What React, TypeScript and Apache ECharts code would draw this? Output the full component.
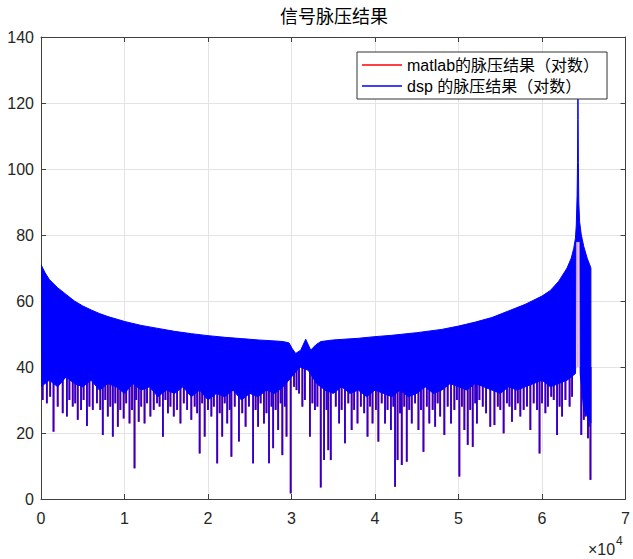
import React, { useEffect, useRef } from 'react';
import * as echarts from 'echarts';

const TITLE = '信号脉压结果';
const NAME_MATLAB = 'matlab的脉压结果（对数）';
const NAME_DSP = 'dsp 的脉压结果（对数）';

const X_MIN = 0;
const X_MAX = 7;
const X_STEP = 1;
const Y_MIN = 0;
const Y_MAX = 140;
const Y_STEP = 20;

// upper envelope of the dense signal (x in units of 10^4)
const upperX = [0, 0.05, 0.1, 0.2, 0.3, 0.4, 0.5, 0.6, 0.7, 0.8, 1.0, 1.2, 1.4, 1.6, 1.8, 2.0, 2.2, 2.4, 2.6, 2.8, 2.9, 2.97, 3.01, 3.05, 3.11, 3.17, 3.23, 3.29, 3.35, 3.5, 3.8, 4.0, 4.2, 4.5, 4.8, 5.0, 5.2, 5.4, 5.6, 5.8, 6.0, 6.1, 6.2, 6.3, 6.35, 6.38, 6.4, 6.41, 6.42, 6.425, 6.428, 6.43, 6.432, 6.435, 6.44, 6.45, 6.47, 6.5, 6.54, 6.585];
const upperY = [71, 68.5, 66.5, 64, 62, 60, 58.5, 57.3, 56.2, 55.3, 53.8, 52.6, 51.7, 50.8, 50.1, 49.5, 49.0, 48.6, 48.2, 47.9, 47.7, 47.3, 45.5, 44.1, 45.1, 48.4, 45.1, 46.7, 47.7, 48.2, 48.7, 49.2, 49.6, 50.4, 51.4, 52.4, 53.6, 55.0, 57.0, 59.0, 61.5, 63.2, 66.0, 70.0, 73.0, 76, 79, 83, 92, 102, 115, 125, 115, 102, 90, 84, 80, 76.5, 73, 70];

// lower edge of the solid band
const lowerX = [0, 0.1, 0.2, 0.3, 0.4, 0.5, 0.6, 0.7, 0.8, 0.9, 1.0, 1.1, 1.2, 1.3, 1.4, 1.5, 1.6, 1.7, 1.8, 1.9, 2.0, 2.1, 2.2, 2.3, 2.4, 2.5, 2.6, 2.7, 2.8, 2.9, 3.0, 3.1, 3.2, 3.3, 3.4, 3.5, 3.6, 3.7, 3.8, 3.9, 4.0, 4.1, 4.2, 4.3, 4.4, 4.5, 4.6, 4.7, 4.8, 4.9, 5.0, 5.1, 5.2, 5.3, 5.4, 5.5, 5.6, 5.7, 5.8, 5.9, 6.0, 6.1, 6.2, 6.3, 6.4, 6.403, 6.406, 6.454, 6.457, 6.5, 6.585];
const lowerY = [34, 36, 34, 37, 35, 34, 36, 33, 35, 34, 32, 35, 33, 34, 31, 33, 32, 34, 31, 33, 30, 32, 31, 33, 30, 32, 31, 33, 32, 34, 37, 40, 39, 35, 33, 32, 34, 32, 33, 31, 33, 32, 31, 33, 31, 32, 34, 32, 33, 35, 34, 33, 35, 34, 33, 32, 34, 33, 34, 35, 36, 34, 35, 36, 38, 40, 78, 78, 38, 27, 23];

// long downward spikes below the band
const spikeX = [0.02, 0.15, 0.26, 0.31, 0.38, 0.44, 0.55, 0.62, 0.74, 0.80, 0.86, 0.92, 0.99, 1.06, 1.12, 1.17, 1.24, 1.31, 1.46, 1.52, 1.59, 1.67, 1.80, 1.90, 1.96, 2.04, 2.11, 2.17, 2.23, 2.28, 2.37, 2.45, 2.54, 2.60, 2.67, 2.73, 2.78, 2.84, 2.89, 2.94, 2.99, 3.03, 3.09, 3.13, 3.22, 3.28, 3.35, 3.39, 3.44, 3.47, 3.57, 3.64, 3.72, 3.79, 3.91, 3.97, 4.04, 4.12, 4.19, 4.24, 4.27, 4.32, 4.38, 4.44, 4.52, 4.58, 4.65, 4.72, 4.78, 4.83, 4.91, 5.01, 5.07, 5.11, 5.17, 5.22, 5.25, 5.38, 5.43, 5.54, 5.64, 5.74, 5.86, 5.97, 6.04, 6.11, 6.18, 6.24, 6.33, 6.47, 6.52, 6.55, 6.58];
const spikeY = [30, 20.4, 26, 25, 28, 24, 22.1, 27, 19.4, 25, 18.9, 21.9, 24.4, 22.9, 9.3, 23.4, 22.9, 25, 18.9, 26, 25, 22.9, 24, 13.8, 18.9, 25, 10.8, 18.9, 22.9, 12.8, 17.4, 21.9, 10.8, 21.9, 22.9, 10.8, 15.4, 20.9, 13.3, 18.9, 1.7, 34, 32, 28, 18.9, 27, 3.5, 11.8, 14.8, 11.8, 22.9, 16.9, 20.9, 22.9, 18.9, 22.9, 17.4, 22.9, 20.9, 3.7, 11.8, 10.3, 11.3, 22.9, 20.9, 14.3, 22.9, 21.9, 25, 19.4, 22.9, 6.8, 20.9, 16.4, 15.8, 22.9, 30, 21.9, 22.4, 19.9, 23.4, 25, 20.9, 13.8, 26, 31, 19.4, 25, 28, 19.4, 25, 18.4, 5.8];

// short fringe spikes just below the solid band
const fringeX = [0.07, 0.11, 0.2, 0.34, 0.41, 0.48, 0.51, 0.58, 0.67, 0.71, 0.77, 0.83, 0.89, 0.95, 1.02, 1.09, 1.14, 1.2, 1.27, 1.35, 1.39, 1.42, 1.49, 1.55, 1.63, 1.71, 1.75, 1.84, 1.87, 1.93, 2.0, 2.07, 2.14, 2.2, 2.26, 2.32, 2.41, 2.49, 2.57, 2.63, 2.7, 2.76, 2.81, 2.87, 2.92, 3.06, 3.16, 3.25, 3.31, 3.42, 3.53, 3.6, 3.68, 3.75, 3.83, 3.87, 3.94, 4.01, 4.08, 4.15, 4.22, 4.3, 4.35, 4.41, 4.48, 4.55, 4.62, 4.69, 4.75, 4.87, 4.95, 4.98, 5.04, 5.14, 5.2, 5.29, 5.33, 5.47, 5.5, 5.58, 5.61, 5.68, 5.71, 5.78, 5.82, 5.9, 5.94, 6.0, 6.07, 6.14, 6.21, 6.28, 6.36, 6.5, 6.56];
const fringeY = [29, 31, 28, 30, 29, 27, 30, 28, 29, 27, 30, 28, 29, 27, 29, 27, 30, 28, 29, 27, 29, 28, 30, 28, 27, 29, 27, 28, 26, 29, 27, 28, 26, 29, 27, 28, 26, 28, 27, 29, 26, 28, 27, 29, 28, 33, 30, 29, 28, 27, 28, 27, 29, 27, 28, 26, 28, 27, 29, 27, 28, 26, 28, 27, 29, 27, 28, 27, 29, 28, 27, 30, 28, 27, 29, 28, 26, 28, 27, 29, 28, 27, 29, 27, 28, 29, 27, 29, 28, 30, 28, 30, 31, 24, 22];

// red (matlab) main-lobe trace, visible in the notch of the blue trace
const peakX = [6.43];
const peakY = [95];

const SPIKE_BASE = 40;

const FONT = "'Liberation Sans', Arial, 'Noto Sans CJK SC', sans-serif";
const AXIS_COLOR = '#404040';
const LABEL_COLOR = '#262626';
const GRID_COLOR = '#e4e4e4';
const RED = '#ff0000';
const BLUE = '#0000ff';

const spikeData = spikeX
  .map((x, i) => [x, spikeY[i]])
  .concat(fringeX.map((x, i) => [x, fringeY[i]]));
const peakData = peakX.map((x, i) => [x, peakY[i]]);

function spikeRenderer(color: string, width: number, opacity: number) {
  return (params: any, api: any) => {
    const x = api.value(0);
    const y = api.value(1);
    const p0 = api.coord([x, SPIKE_BASE]);
    const p1 = api.coord([x, y]);
    return {
      type: 'line',
      shape: { x1: p0[0], y1: p0[1], x2: p1[0], y2: p1[1] },
      style: { stroke: color, lineWidth: width, opacity },
    };
  };
}

function bandRenderer(color: string) {
  return (params: any, api: any) => {
    const pts: number[][] = [];
    for (let i = 0; i < upperX.length; i++) pts.push(api.coord([upperX[i], upperY[i]]));
    for (let i = lowerX.length - 1; i >= 0; i--) pts.push(api.coord([lowerX[i], lowerY[i]]));
    return {
      type: 'polygon',
      shape: { points: pts },
      style: { fill: color, stroke: color, lineWidth: 1 },
    };
  };
}

export default function App() {
  const ref = useRef<HTMLDivElement>(null);
  useEffect(() => {
    if (!ref.current) return;
    const chart = echarts.init(ref.current, undefined, { renderer: 'svg' });
    const xAxisBase = {
      type: 'value',
      min: X_MIN,
      max: X_MAX,
      interval: X_STEP,
      axisLine: { show: true, onZero: false, lineStyle: { color: AXIS_COLOR, width: 1 } },
      axisTick: { show: true, inside: true, length: 5, lineStyle: { color: AXIS_COLOR } },
    };
    const yAxisBase = {
      type: 'value',
      min: Y_MIN,
      max: Y_MAX,
      interval: Y_STEP,
      axisLine: { show: true, onZero: false, lineStyle: { color: AXIS_COLOR, width: 1 } },
      axisTick: { show: true, inside: true, length: 5, lineStyle: { color: AXIS_COLOR } },
    };
    chart.setOption({
      animation: false,
      backgroundColor: '#ffffff',
      grid: { left: 41, right: 6, top: 37, bottom: 60, show: false },
      xAxis: [
        {
          ...xAxisBase,
          position: 'bottom',
          axisLabel: { color: LABEL_COLOR, fontSize: 16, margin: 11, fontFamily: FONT },
          splitLine: { show: true, lineStyle: { color: GRID_COLOR, width: 1 } },
        },
        {
          ...xAxisBase,
          position: 'top',
          axisLabel: { show: false },
          splitLine: { show: false },
        },
      ],
      yAxis: [
        {
          ...yAxisBase,
          position: 'left',
          axisLabel: { color: LABEL_COLOR, fontSize: 16, margin: 7, fontFamily: FONT },
          splitLine: { show: true, lineStyle: { color: GRID_COLOR, width: 1 } },
        },
        {
          ...yAxisBase,
          position: 'right',
          axisLabel: { show: false },
          splitLine: { show: false },
        },
      ],
      legend: {
        show: true,
        orient: 'vertical',
        left: 357,
        top: 52,
        padding: [5, 8, 5, 5],
        itemWidth: 40,
        itemHeight: 1.5,
        itemGap: 5,
        icon: 'rect',
        backgroundColor: '#ffffff',
        borderColor: '#333333',
        borderWidth: 1,
        borderRadius: 0,
        selectedMode: false,
        textStyle: { fontSize: 16, color: '#000000', fontFamily: FONT },
        data: [NAME_MATLAB, NAME_DSP],
      },
      graphic: [
        {
          type: 'text',
          x: 334,
          y: 8,
          style: { text: TITLE, fontSize: 18, fill: '#000000', align: 'center', verticalAlign: 'top', fontFamily: FONT },
        },
        {
          type: 'text',
          x: 588,
          y: 541,
          style: { text: '×10', fontSize: 16, fill: LABEL_COLOR, align: 'left', verticalAlign: 'top', fontFamily: FONT },
        },
        {
          type: 'text',
          x: 616,
          y: 535,
          style: { text: '4', fontSize: 12, fill: LABEL_COLOR, align: 'left', verticalAlign: 'top', fontFamily: FONT },
        },
      ],
      series: [
        {
          type: 'custom',
          name: NAME_MATLAB,
          itemStyle: { color: RED },
          clip: true,
          data: spikeData,
          encode: { x: 0, y: 1 },
          renderItem: spikeRenderer(RED, 1.8, 1),
        },
        {
          type: 'custom',
          name: NAME_MATLAB,
          itemStyle: { color: RED },
          clip: true,
          data: peakData,
          encode: { x: 0, y: 1 },
          renderItem: spikeRenderer('#ff6a6a', 1, 1),
        },
        {
          type: 'custom',
          name: NAME_DSP,
          itemStyle: { color: BLUE },
          clip: true,
          data: [[X_MIN, Y_MIN]],
          encode: { x: 0, y: 1 },
          renderItem: bandRenderer(BLUE),
        },
        {
          type: 'custom',
          name: NAME_DSP,
          itemStyle: { color: BLUE },
          clip: true,
          data: spikeData,
          encode: { x: 0, y: 1 },
          renderItem: spikeRenderer(BLUE, 1.8, 0.86),
        },
      ],
    });
    return () => chart.dispose();
  }, []);
  return (
    <div
      ref={ref}
      style={{ position: 'fixed', left: 0, top: 0, width: 633, height: 559, background: '#fff' }}
    />
  );
}
